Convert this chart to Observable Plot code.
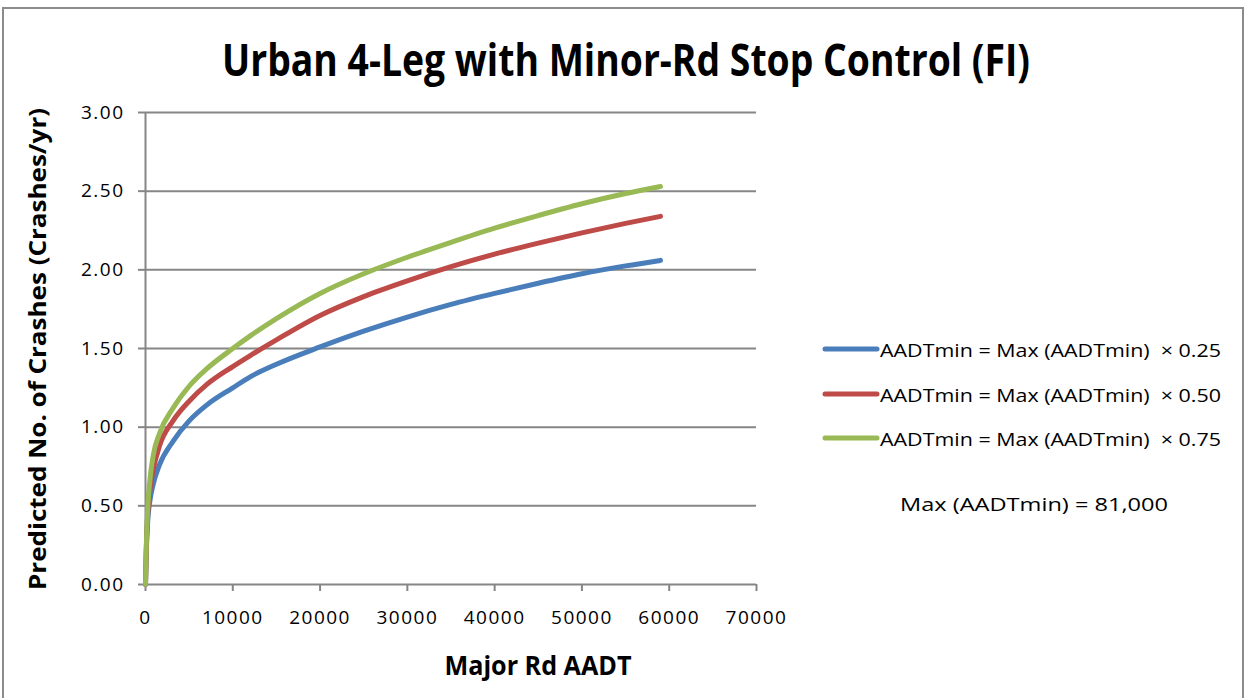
<!DOCTYPE html>
<html>
<head>
<meta charset="utf-8">
<script src="https://cdn.jsdelivr.net/npm/d3@7"></script>
<script src="https://cdn.jsdelivr.net/npm/@observablehq/plot@0.6"></script>
<style>
  body { margin: 0; background: #fff; }
  #wrap { position: relative; width: 1249px; height: 698px; overflow: hidden; font-family: "Open Sans", sans-serif; }
  #frame { position: absolute; left: 2px; top: 7px; width: 1242px; height: 700px; border: 2px solid #8c8c8c; box-sizing: border-box; }
  #chart, #overlay { position: absolute; left: 0; top: 0; }
</style>
</head>
<body>
<div id="wrap">
  <div id="frame"></div>
  <div id="chart"></div>
  <svg id="overlay" width="1249" height="698"></svg>
</div>
<script>
// ---- data ----
const majorAADT = [0, 100, 250, 500, 850, 1600, 3150, 5000, 7000, 10000, 12000, 15000, 20000, 25000, 30000, 35000, 40000, 45000, 50000, 55000, 59000];
const crashes025 = [0, 0.22, 0.40, 0.53, 0.63, 0.76, 0.91, 1.04, 1.14, 1.25, 1.32, 1.40, 1.51, 1.61, 1.70, 1.78, 1.85, 1.915, 1.975, 2.025, 2.06];
const crashes050 = [0, 0.24, 0.44, 0.60, 0.72, 0.88, 1.04, 1.165, 1.27, 1.385, 1.455, 1.555, 1.71, 1.83, 1.93, 2.02, 2.10, 2.17, 2.235, 2.295, 2.34];
const crashes075 = [0, 0.26, 0.48, 0.66, 0.81, 0.96, 1.12, 1.26, 1.37, 1.50, 1.58, 1.69, 1.85, 1.975, 2.08, 2.175, 2.265, 2.345, 2.42, 2.485, 2.53];
const seriesLabels = ["AADTmin = Max (AADTmin)  \u00d7 0.25", "AADTmin = Max (AADTmin)  \u00d7 0.50", "AADTmin = Max (AADTmin)  \u00d7 0.75"];
const seriesColors = ["#4A7EBB", "#BE4B48", "#98B954"];
const xTicks = [0, 10000, 20000, 30000, 40000, 50000, 60000, 70000];
const yTicks = [0, 0.5, 1.0, 1.5, 2.0, 2.5, 3.0];
const titleText = "Urban 4-Leg with Minor-Rd Stop Control (FI)";
const xTitle = "Major Rd AADT";
const yTitle = "Predicted No. of Crashes (Crashes/yr)";
const noteText = "Max (AADTmin) = 81,000";

const allSeries = [crashes025, crashes050, crashes075];
const rows = [];
allSeries.forEach((vals, s) => {
  majorAADT.forEach((x, i) => rows.push({x, y: vals[i], series: seriesLabels[s]}));
});

const gridColor = "#868686";

const chart = Plot.plot({
  width: 1249,
  height: 698,
  marginLeft: 145,
  marginRight: 493,
  marginTop: 112,
  marginBottom: 114,
  style: { fontFamily: "Open Sans, sans-serif", fontSize: "19px", color: "#000", background: "transparent", letterSpacing: "1.5px", overflow: "visible" },
  x: { domain: [0, 70000] },
  y: { domain: [0, 3] },
  color: { domain: seriesLabels, range: seriesColors },
  marks: [
    Plot.gridY(yTicks, { stroke: gridColor, strokeOpacity: 1, strokeWidth: 2 }),
    Plot.ruleX([0], { stroke: gridColor, strokeWidth: 2 }),
    Plot.axisY({ ticks: yTicks, tickFormat: d => d.toFixed(2), tickSize: 7, tickPadding: 14, stroke: gridColor, strokeWidth: 2, label: null }),
    Plot.axisX({ ticks: xTicks, tickFormat: d => String(d), tickSize: 7, tickPadding: 19, stroke: gridColor, strokeWidth: 2, label: null }),
    Plot.line(rows, { x: "x", y: "y", z: "series", stroke: "series", strokeWidth: 5, curve: "monotone-x", strokeLinecap: "round", strokeLinejoin: "round" })
  ]
});
document.getElementById("chart").appendChild(chart);

// ---- titles, legend ----
const ov = d3.select("#overlay").style("font-family", "Open Sans, sans-serif");
ov.append("text").attr("x", 626).attr("y", 76).attr("text-anchor", "middle")
  .attr("font-size", 44).attr("font-weight", "bold").attr("textLength", 808).attr("lengthAdjust", "spacingAndGlyphs")
  .text(titleText);
ov.append("text").attr("x", 538).attr("y", 675).attr("text-anchor", "middle")
  .attr("font-size", 27).attr("font-weight", "bold").attr("textLength", 187).attr("lengthAdjust", "spacingAndGlyphs")
  .text(xTitle);
ov.append("text").attr("transform", "translate(46,349) rotate(-90)").attr("text-anchor", "middle")
  .attr("font-size", 24).attr("font-weight", "bold").attr("textLength", 482).attr("lengthAdjust", "spacingAndGlyphs")
  .text(yTitle);

const legendY = [349, 394, 438];
seriesLabels.forEach((lab, i) => {
  const g = ov.append("g");
  g.append("line").attr("x1", 825).attr("x2", 877).attr("y1", legendY[i]).attr("y2", legendY[i])
    .attr("stroke", seriesColors[i]).attr("stroke-width", 5).attr("stroke-linecap", "round");
  g.append("text").attr("x", 880).attr("y", legendY[i] + 8).attr("font-size", 17.5)
    .attr("textLength", 341).attr("lengthAdjust", "spacingAndGlyphs").style("white-space", "pre")
    .text(lab);
});
ov.append("text").attr("x", 1034).attr("y", 511).attr("text-anchor", "middle").attr("font-size", 18.5)
  .attr("textLength", 268).attr("lengthAdjust", "spacingAndGlyphs").style("white-space", "pre")
  .text(noteText);
</script>
</body>
</html>
